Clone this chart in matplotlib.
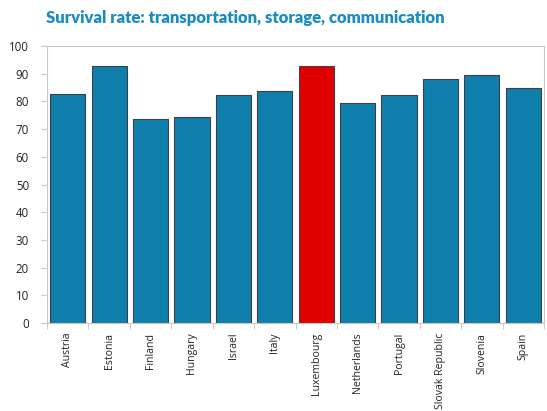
import matplotlib
matplotlib.use("Agg")
import matplotlib.pyplot as plt
import numpy as np

countries = ["Austria", "Estonia", "Finland", "Hungary", "Israel", "Italy",
             "Luxembourg", "Netherlands", "Portugal", "Slovak Republic",
             "Slovenia", "Spain"]
rates = [82.7, 92.8, 73.6, 74.3, 82.3, 83.8, 92.8, 79.3, 82.3, 88.0, 89.4, 84.7]
highlight = "Luxembourg"

plt.rcParams['font.family'] = ['Open Sans', 'DejaVu Sans']

fig = plt.figure(figsize=(5.47, 4.11), dpi=100)
ax = fig.add_axes([47/547, 1-323/411, 497/547, 277/411])

x = np.arange(len(countries))
colors = ["#e00000" if c == highlight else "#0f7fae" for c in countries]
ax.bar(x, rates, width=0.85, color=colors, edgecolor="#404040", linewidth=0.8, zorder=2)

ax.set_xlim(-0.5, len(countries) - 0.5)
ax.set_ylim(0, 100)
ax.set_yticks(range(0, 101, 10))
ax.set_xticks(x)
ax.set_xticklabels(countries, rotation=90, fontsize=7.6, color="#222222")
ax.set_xticks(np.arange(-0.5, len(countries), 1), minor=True)
ax.tick_params(axis='x', which='major', length=0, pad=7)
ax.tick_params(axis='x', which='minor', length=4, color="#c8c8c8")
ax.tick_params(axis='y', length=4, color="#c8c8c8", labelsize=8.3, pad=9,
               labelcolor="#222222")
for s in ax.spines.values():
    s.set_color("#c8c8c8")

fig.text(46/547, 1-18/411, "Survival rate: transportation, storage, communication",
         fontsize=12, fontweight='heavy', color="#1a8cc0", va='center', ha='left',
         family=['Lato', 'DejaVu Sans'])

fig.savefig("out.png", dpi=100)
